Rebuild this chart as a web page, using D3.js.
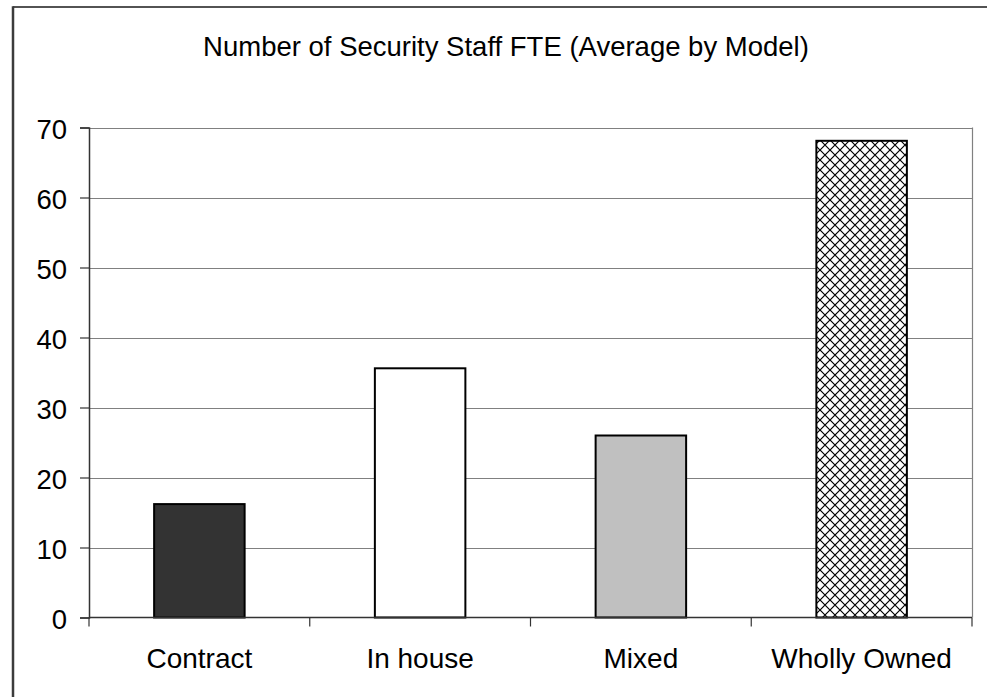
<!DOCTYPE html>
<html>
<head>
<meta charset="utf-8">
<script src="https://cdn.jsdelivr.net/npm/d3@7/dist/d3.min.js"></script>
<style>
  html, body { margin: 0; padding: 0; background: #fff; }
  svg { display: block; }
  text { font-family: "Liberation Sans", Arial, sans-serif; fill: #000; }
</style>
</head>
<body>
<svg id="chart" width="987" height="697"></svg>
<script>
// Average security staff FTE per operating model
const categories = ["Contract", "In house", "Mixed", "Wholly Owned"];
const values = [16.2, 35.6, 26.0, 68.1];
const yTicks = [0, 10, 20, 30, 40, 50, 60, 70];
const titleText = "Number of Security Staff FTE (Average by Model)";

const svg = d3.select("#chart");
const W = 987, H = 697;
const plot = { left: 89, right: 972, top: 127.5, bottom: 617.5 };

// hatch pattern for the last bar
const defs = svg.append("defs");
const P = 10;
const pat = defs.append("pattern")
  .attr("id", "cross")
  .attr("patternUnits", "userSpaceOnUse")
  .attr("width", P).attr("height", P);
pat.append("rect").attr("width", P).attr("height", P).attr("fill", "#fff");
pat.append("path")
  .attr("d", `M0,0 L${P},${P} M${P},0 L0,${P}`)
  .attr("stroke", "#000").attr("stroke-width", 1.2).attr("fill", "none");

// outer chart frame
svg.append("line").attr("x1", 13).attr("x2", W).attr("y1", 7).attr("y2", 7)
  .attr("stroke", "#1a1a1a").attr("stroke-width", 1.5);
svg.append("line").attr("x1", 13).attr("x2", 13).attr("y1", 6.3).attr("y2", H)
  .attr("stroke", "#3c3c3c").attr("stroke-width", 2.5);

const x = d3.scaleBand()
  .domain(categories)
  .range([plot.left, plot.right])
  .paddingInner(0.59)
  .paddingOuter(0.295);

const y = d3.scaleLinear().domain([0, 70]).range([plot.bottom, plot.top]);

const fills = ["#333333", "#ffffff", "#c0c0c0", "url(#cross)"];

// gridlines
svg.append("g")
  .selectAll("line")
  .data(yTicks.filter(d => d > 0))
  .join("line")
  .attr("x1", plot.left).attr("x2", plot.right)
  .attr("y1", d => Math.round(y(d)) + 0.5).attr("y2", d => Math.round(y(d)) + 0.5)
  .attr("stroke", "#808080").attr("stroke-width", 1.2);

// plot area right border
svg.append("line")
  .attr("x1", plot.right + 0.5).attr("x2", plot.right + 0.5)
  .attr("y1", y(70)).attr("y2", plot.bottom)
  .attr("stroke", "#808080").attr("stroke-width", 1.2);

// bars
svg.append("g")
  .selectAll("rect")
  .data(values)
  .join("rect")
  .attr("x", (d, i) => x(categories[i]))
  .attr("y", d => y(d))
  .attr("width", x.bandwidth())
  .attr("height", d => plot.bottom - y(d))
  .attr("fill", (d, i) => fills[i])
  .attr("stroke", "#000")
  .attr("stroke-width", 2);

// y axis
const yAxis = d3.axisLeft(y).tickValues(yTicks).tickSize(9).tickPadding(13).tickFormat(d3.format("d"));
const gy = svg.append("g").attr("transform", `translate(${plot.left},0)`).call(yAxis);
gy.select(".domain").attr("stroke", "#333").attr("stroke-width", 1.5);
gy.selectAll(".tick line").attr("stroke", "#333").attr("stroke-width", 1.2);
gy.selectAll(".tick text")
  .attr("font-size", 27.5)
  .attr("font-family", "Liberation Sans, Arial, sans-serif")
  .attr("dy", "0.4em")
  .attr("fill", "#000");

// x axis: ticks sit on the category boundaries
const xb = d3.scaleLinear().domain([0, categories.length]).range([plot.left, plot.right]);
const gx = svg.append("g").attr("transform", `translate(0,${plot.bottom})`);
gx.append("line")
  .attr("x1", plot.left).attr("x2", plot.right)
  .attr("stroke", "#333").attr("stroke-width", 1.5);
gx.selectAll("line.tk")
  .data(d3.range(categories.length + 1))
  .join("line").attr("class", "tk")
  .attr("x1", d => xb(d)).attr("x2", d => xb(d))
  .attr("y1", 0).attr("y2", 9)
  .attr("stroke", "#333").attr("stroke-width", 1.2);
gx.selectAll("text")
  .data(categories)
  .join("text")
  .attr("x", d => x(d) + x.bandwidth() / 2)
  .attr("y", 50)
  .attr("text-anchor", "middle")
  .attr("font-size", 28)
  .text(d => d);

// title
svg.append("text")
  .attr("x", 506).attr("y", 56)
  .attr("text-anchor", "middle")
  .attr("font-size", 27.5)
  .text(titleText);
</script>
</body>
</html>
